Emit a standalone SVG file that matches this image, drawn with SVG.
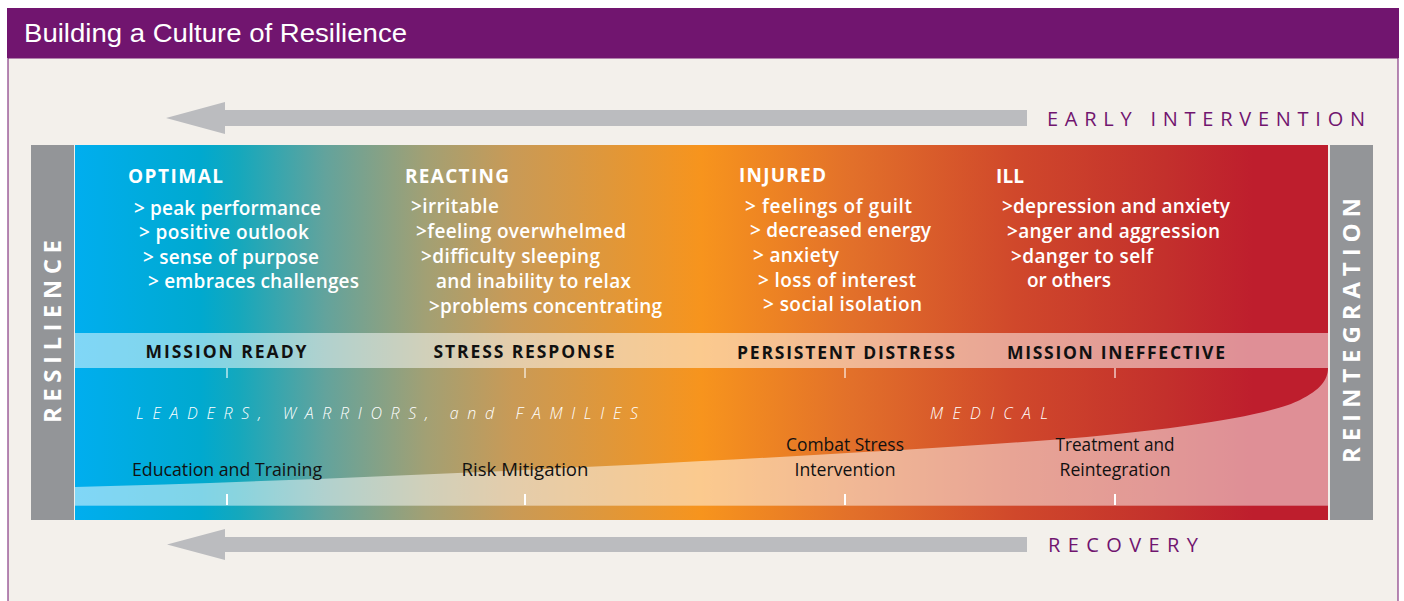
<svg xmlns="http://www.w3.org/2000/svg" width="1404" height="601" viewBox="0 0 1404 601">
<style>
.hd{font-family:"Open Sans","Noto Sans",sans-serif;font-weight:700;font-size:19px;fill:#fff}
.it{font-family:"Open Sans","Noto Sans",sans-serif;font-weight:600;font-size:19px;fill:#fff}
.bl{font-family:"Open Sans","Noto Sans",sans-serif;font-weight:700;font-size:17.5px;fill:#111;text-anchor:middle}
.grp{font-family:"Open Sans","Noto Sans",sans-serif;font-weight:300;font-style:italic;font-size:16px;fill:#fff}
.lb{font-family:"Open Sans","Noto Sans",sans-serif;font-weight:400;font-size:19px;fill:#111;text-anchor:middle}
.vt{font-family:"Open Sans","Noto Sans",sans-serif;font-weight:700;font-size:24px;fill:#fff;text-anchor:middle}
.pt{font-family:"Open Sans","Noto Sans",sans-serif;font-weight:400;font-size:20px;fill:#71156f}
.tk{stroke:#fff;stroke-width:2}
.tk2{stroke:#fff;stroke-width:2;stroke-opacity:0.55}
.arr{fill:#bbbcbf}
.gray{fill:#939598}
.lite{fill:#fff;fill-opacity:0.5}
</style>
<defs>
<linearGradient id="spec" gradientUnits="userSpaceOnUse" x1="75" y1="0" x2="1328" y2="0">
<stop offset="0" stop-color="#00aeef"/>
<stop offset="0.1" stop-color="#00a9cf"/>
<stop offset="0.13" stop-color="#14a8bd"/>
<stop offset="0.2" stop-color="#63a39c"/>
<stop offset="0.28" stop-color="#a2a074"/>
<stop offset="0.35" stop-color="#c99a56"/>
<stop offset="0.5" stop-color="#f7941d"/>
<stop offset="0.62" stop-color="#e2702a"/>
<stop offset="0.75" stop-color="#d0482b"/>
<stop offset="0.87" stop-color="#c3302c"/>
<stop offset="0.94" stop-color="#be1e2d"/>
<stop offset="1" stop-color="#be1e2d"/>
</linearGradient>
</defs>
<rect x="0" y="0" width="1404" height="601" fill="#fff"/>
<rect x="8" y="58" width="1390" height="560" fill="#f3f0eb" stroke="#71156f" stroke-width="1"/>
<g id="header">
<rect x="7" y="8" width="1392" height="50" fill="#71156f"/>
<text x="24" y="42" font-family="'Liberation Sans',Arial,sans-serif" font-size="25.5" fill="#fff" textLength="383" lengthAdjust="spacingAndGlyphs">Building a Culture of Resilience</text>
</g>
<g id="spectrum">
<rect x="75" y="145" width="1253" height="375" fill="url(#spec)"/>
<rect class="lite" x="75" y="333" width="1253" height="35"/>
<path class="lite" d="M75,487 C400,478 800,458 1050,440 C1180,430 1270,415 1300,400 C1320,390 1328,380 1328,368 L1328,505 L75,505 Z"/>
<line x1="75" y1="505.5" x2="1328" y2="505.5" stroke="#fff" stroke-opacity="0.35"/>
</g>
<g id="resilience">
<rect class="gray" x="31" y="145" width="43" height="375"/>
<text class="vt" transform="translate(61,331.5) rotate(-90)" x="0" y="0" textLength="183" lengthAdjust="spacing">RESILIENCE</text>
</g>
<g id="reintegration">
<rect class="gray" x="1330" y="145" width="43" height="375"/>
<text class="vt" transform="translate(1360,330.5) rotate(-90)" x="0" y="0" textLength="265" lengthAdjust="spacing">REINTEGRATION</text>
</g>
<g id="optimal">
<text class="hd" x="128" y="183" textLength="95">OPTIMAL</text>
<text class="it" x="134" y="215" textLength="187">&gt; peak performance</text>
<text class="it" x="139" y="239" textLength="170">&gt; positive outlook</text>
<text class="it" x="143" y="264" textLength="176">&gt; sense of purpose</text>
<text class="it" x="148" y="288" textLength="211">&gt; embraces challenges</text>
<text class="bl" x="226" y="358" textLength="161">MISSION READY</text>
<line class="tk2" x1="227" y1="368" x2="227" y2="378"/>
<text class="lb" x="227" y="476" textLength="190" lengthAdjust="spacingAndGlyphs">Education and Training</text>
<line class="tk" x1="227" y1="494" x2="227" y2="505"/>
</g>
<g id="reacting">
<text class="hd" x="405" y="183" textLength="104">REACTING</text>
<text class="it" x="411" y="213" textLength="88">&gt;irritable</text>
<text class="it" x="416" y="238" textLength="210">&gt;feeling overwhelmed</text>
<text class="it" x="421" y="263" textLength="179">&gt;difficulty sleeping</text>
<text class="it" x="436" y="288" textLength="195">and inability to relax</text>
<text class="it" x="429" y="313" textLength="233">&gt;problems concentrating</text>
<text class="bl" x="524" y="358" textLength="181">STRESS RESPONSE</text>
<line class="tk2" x1="525" y1="368" x2="525" y2="378"/>
<text class="lb" x="525" y="476" textLength="127" lengthAdjust="spacingAndGlyphs">Risk Mitigation</text>
<line class="tk" x1="525" y1="494" x2="525" y2="505"/>
</g>
<g id="injured">
<text class="hd" x="739" y="182" textLength="87">INJURED</text>
<text class="it" x="745" y="213" textLength="167">&gt; feelings of guilt</text>
<text class="it" x="750" y="237" textLength="181">&gt; decreased energy</text>
<text class="it" x="753" y="262" textLength="86">&gt; anxiety</text>
<text class="it" x="758" y="287" textLength="158">&gt; loss of interest</text>
<text class="it" x="763" y="311" textLength="159">&gt; social isolation</text>
<text class="bl" x="846" y="359" textLength="218">PERSISTENT DISTRESS</text>
<line class="tk2" x1="845" y1="368" x2="845" y2="378"/>
<text class="lb" x="845" y="451" textLength="118" lengthAdjust="spacingAndGlyphs">Combat Stress</text>
<text class="lb" x="845" y="476" textLength="101" lengthAdjust="spacingAndGlyphs">Intervention</text>
<line class="tk" x1="845" y1="494" x2="845" y2="505"/>
</g>
<g id="ill">
<text class="hd" x="996" y="183" textLength="28">ILL</text>
<text class="it" x="1002" y="213" textLength="228">&gt;depression and anxiety</text>
<text class="it" x="1007" y="238" textLength="213">&gt;anger and aggression</text>
<text class="it" x="1011" y="263" textLength="142">&gt;danger to self</text>
<text class="it" x="1027" y="287" textLength="84">or others</text>
<text class="bl" x="1116" y="359" textLength="218">MISSION INEFFECTIVE</text>
<line class="tk2" x1="1115" y1="368" x2="1115" y2="378"/>
<text class="lb" x="1115" y="451" textLength="119" lengthAdjust="spacingAndGlyphs">Treatment and</text>
<text class="lb" x="1115" y="476" textLength="111" lengthAdjust="spacingAndGlyphs">Reintegration</text>
<line class="tk" x1="1115" y1="494" x2="1115" y2="505"/>
</g>
<g id="leaders">
<text class="grp" x="136" y="419" textLength="502" lengthAdjust="spacing">LEADERS, WARRIORS, and FAMILIES</text>
</g>
<g id="medical">
<text class="grp" x="930" y="419" textLength="118" lengthAdjust="spacing">MEDICAL</text>
</g>
<g id="early-intervention">
<text class="pt" x="1047" y="126" textLength="318" lengthAdjust="spacing">EARLY INTERVENTION</text>
</g>
<g id="recovery">
<text class="pt" x="1048" y="552" textLength="150" lengthAdjust="spacing">RECOVERY</text>
</g>
<g id="connectors">
<polygon class="arr" points="1027,110 225,110 225,102 166,118 225,134 225,126 1027,126"/>
<polygon class="arr" points="1027,537 225,537 225,529 167,544.5 225,560 225,552 1027,552"/>
</g>
</svg>
